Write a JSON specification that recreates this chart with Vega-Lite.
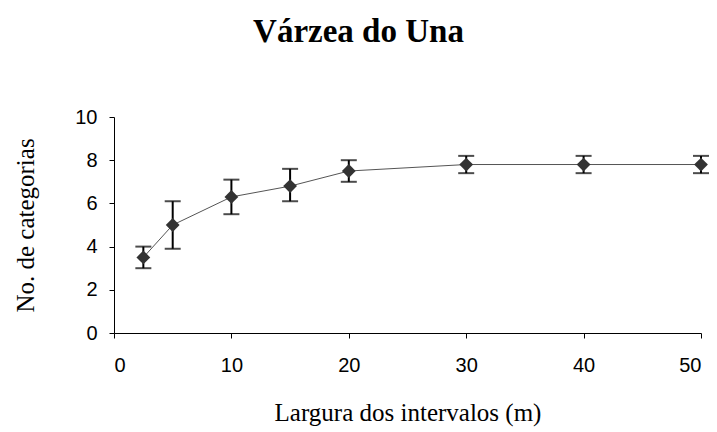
{
  "$schema": "https://vega.github.io/schema/vega-lite/v6.json",
  "width": 587,
  "height": 216,
  "autosize": {"type": "none"},
  "padding": {"left": 114, "top": 117, "right": 16, "bottom": 99},
  "background": "white",
  "title": {
    "text": "Várzea do Una",
    "font": "Liberation Serif",
    "fontSize": 33,
    "fontWeight": "bold",
    "color": "black",
    "anchor": "middle",
    "dx": -49,
    "offset": 58
  },
  "config": {
    "view": {"stroke": null},
    "axis": {
      "domainColor": "black",
      "tickColor": "black",
      "domainWidth": 1,
      "tickWidth": 1,
      "tickSize": 5,
      "grid": false,
      "labelFont": "Liberation Sans",
      "labelFontSize": 20,
      "labelColor": "black",
      "titleFont": "Liberation Serif",
      "titleFontSize": 25,
      "titleFontWeight": "normal",
      "titleColor": "black"
    }
  },
  "data": {
    "values": [
      {"x": 2.5, "y": 3.5, "lo": 3.0, "hi": 4.0},
      {"x": 5, "y": 5.0, "lo": 3.9, "hi": 6.1},
      {"x": 10, "y": 6.3, "lo": 5.5, "hi": 7.1},
      {"x": 15, "y": 6.8, "lo": 6.1, "hi": 7.6},
      {"x": 20, "y": 7.5, "lo": 7.0, "hi": 8.0},
      {"x": 30, "y": 7.8, "lo": 7.4, "hi": 8.2},
      {"x": 40, "y": 7.8, "lo": 7.4, "hi": 8.2},
      {"x": 50, "y": 7.8, "lo": 7.4, "hi": 8.2}
    ]
  },
  "encoding": {
    "x": {
      "field": "x",
      "type": "quantitative",
      "scale": {"domain": [0, 50], "nice": false},
      "axis": {"values": [0, 10, 20, 30, 40, 50], "labelPadding": 17, "title": "Largura dos intervalos (m)", "titlePadding": 25}
    },
    "y": {
      "field": "y",
      "type": "quantitative",
      "scale": {"domain": [0, 10], "nice": false},
      "axis": {"values": [0, 2, 4, 6, 8, 10], "labelPadding": 12, "title": "No. de categorias", "titlePadding": 36}
    }
  },
  "layer": [
    {"mark": {"type": "line", "color": "#555555", "strokeWidth": 1}},
    {
      "mark": {"type": "errorbar", "ticks": {"size": 16, "thickness": 2, "color": "black"}, "rule": {"strokeWidth": 2, "color": "black"}},
      "encoding": {"y": {"field": "lo", "type": "quantitative"}, "y2": {"field": "hi"}}
    },
    {"mark": {"type": "point", "shape": "diamond", "filled": true, "color": "#333333", "opacity": 1, "size": 190}}
  ]
}
